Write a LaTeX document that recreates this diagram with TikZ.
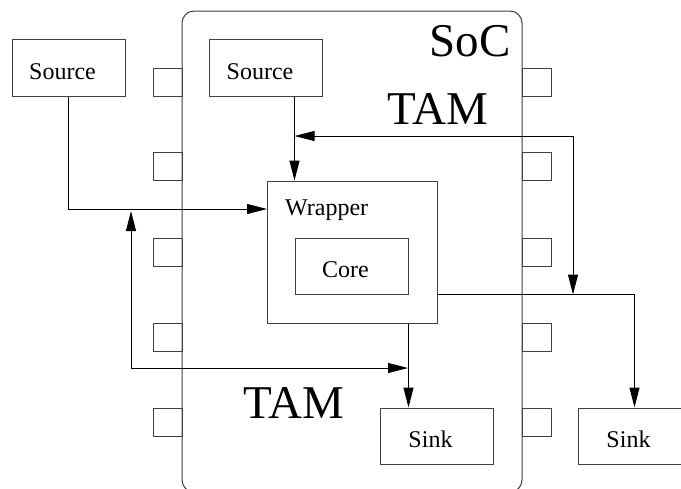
\documentclass[tikz,border=0pt]{standalone}
\usepackage{fontspec}
\setmainfont{Liberation Serif}
\usetikzlibrary{arrows.meta}

\tikzset{
  blk/.style={draw=black!75,line width=1pt,minimum width=113pt,minimum height=57pt,
    text height=23pt,text depth=0pt,font=\fontsize{24}{28}\selectfont,
    execute at end node={\hspace*{12pt}}},
  big/.style={font=\fontsize{47}{52}\selectfont,inner sep=0pt},
  arr/.style={line width=1pt,-{Triangle[length=20pt,width=10pt]}},
  dbl/.style={line width=1pt,{Triangle[length=20pt,width=10pt]}-{Triangle[length=20pt,width=10pt]}}
}

\begin{document}
\begin{tikzpicture}[x=1pt,y=-1pt]
\useasboundingbox (0,0) rectangle (681,488);
% chip outline and pins
\draw[black!75,line width=1pt,rounded corners=12pt] (182,11) rectangle (522,492);
\foreach \y in {68,152,238,323,408}
  \draw[black!75,line width=1pt] (153,\y) rectangle ++(29,28) (522,\y) rectangle ++(29,28);
\node[big,anchor=base east] (soc) at (511,56) {SoC};
\node[big,anchor=base] (tamtop) at (438,124) {TAM};
\node[big,anchor=base] (tambot) at (293.5,418) {TAM};
% blocks
\node[blk] (src1) at (68.5,67.5) {Source};
\node[blk] (src2) at (266,67.5) {Source};
\node[draw=black!75,line width=1pt,minimum width=170pt,minimum height=142pt] (wrap) at (352,252) {};
\node[anchor=base west,inner sep=0pt,font=\fontsize{24}{28}\selectfont] (wlbl) at (285,215) {Wrapper};
\node[blk,minimum height=56pt] (core) at (351.5,266) {Core};
\node[blk,minimum height=56pt] (sink1) at (436.5,436) {Sink};
\node[blk,minimum height=56pt] (sink2) at (634.5,436) {Sink};
% test access mechanism
\coordinate (win) at (267,209);
\coordinate (tamR) at (573,136);
\coordinate (tamT) at (131,211);
\coordinate (tamB) at (408,368);
\draw[arr] (src1.south) |- (win);
\draw[arr] (src2.south -| core.west) -- (wrap.north -| core.west);
\draw[dbl] (core.west |- tamR) -- (tamR) -- (tamR |- core.south);
\draw[arr] (wrap.east |- core.south) -| (sink2.north);
\draw[arr] (wrap.south -| core.east) -- (sink1.north -| core.east);
\draw[dbl] (tamT) |- (tamB);
\end{tikzpicture}
\end{document}
